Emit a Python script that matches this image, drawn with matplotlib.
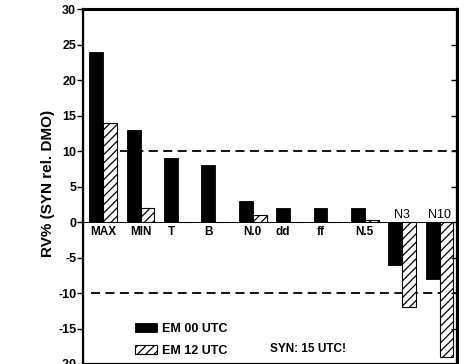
import numpy as np
import matplotlib
matplotlib.use('Agg')
import matplotlib.pyplot as plt

plt.rcParams['font.family'] = ['Liberation Sans', 'DejaVu Sans']
plt.rcParams['hatch.linewidth'] = 0.9

# data
categories = ['MAX', 'MIN', 'T', 'B', 'N.0', 'dd', 'ff', 'N.5', 'N3', 'N10']
em00 = [24, 13, 9, 8, 3, 2, 2, 2, -6, -8]
em12 = [14, 2, 0, 0, 1, 0, 0, 0.3, -12, -19]
yticks = [30, 25, 20, 15, 10, 5, 0, -5, -10, -15, -20]

fig = plt.figure(figsize=(4.67, 3.64), dpi=100)
ax = fig.add_axes([0.178, 0.0, 0.801, 0.975])

x = np.arange(len(categories))
w = 0.37
b1 = ax.bar(x - w / 2, em00, w, color='black', edgecolor='black', linewidth=0.6,
            label='EM 00 UTC', zorder=3)
b2 = ax.bar(x + w / 2, em12, w, color='white', edgecolor='black', linewidth=0.8,
            hatch='////', label='EM 12 UTC', zorder=3)

ax.axhline(0, color='black', lw=0.7, zorder=2)
ax.axhline(10, xmin=0.02, color='black', lw=1.3, ls=(0, (5, 3)), zorder=1)
ax.axhline(-10, xmin=0.02, color='black', lw=1.3, ls=(0, (5, 3)), zorder=1)

# category labels: below zero for positive groups, above for negative ones
for i, name in enumerate(categories):
    xc = x[i] if em12[i] != 0 else x[i] - w / 2
    if em00[i] >= 0:
        ax.text(xc, -0.6, name, ha='center', va='top', fontsize=8.5, fontweight='bold')
    else:
        ax.text(xc, 0.15, name, ha='center', va='bottom', fontsize=9)

ax.set_xlim(-0.535, 9.47)
ax.set_ylim(-20, 30)
ax.set_xticks([])
ax.set_yticks(yticks)
ax.set_yticklabels([str(t) for t in yticks], fontsize=9, fontweight='bold')
ax.tick_params(axis='y', direction='out', length=4, width=1, pad=1)
ax.set_ylabel('RV% (SYN rel. DMO)', fontsize=11, fontweight='bold')
ax.yaxis.set_label_coords(-0.075, 0.51)

for s in ax.spines.values():
    s.set_linewidth(1.6)
ax.spines['top'].set_linewidth(2.2)

# right side ticks point inward
ax2 = ax.twinx()
ax2.set_ylim(-20, 30)
ax2.set_yticks(yticks)
ax2.set_yticklabels([])
ax2.tick_params(axis='y', direction='in', length=4, width=1)
ax2.spines['right'].set_linewidth(2.2)

ax.legend(handles=[b1, b2], loc='lower left', bbox_to_anchor=(0.139, 0.02),
          frameon=False, prop={'weight': 'bold', 'size': 9},
          handlelength=1.75, handleheight=0.65, handletextpad=0.4,
          labelspacing=0.8, borderpad=0, borderaxespad=0)
ax.text(0.5, 0.043, 'SYN: 15 UTC!', transform=ax.transAxes, fontsize=8.5,
        fontweight='bold', ha='left', va='center')

fig.savefig('out.png', dpi=100)
